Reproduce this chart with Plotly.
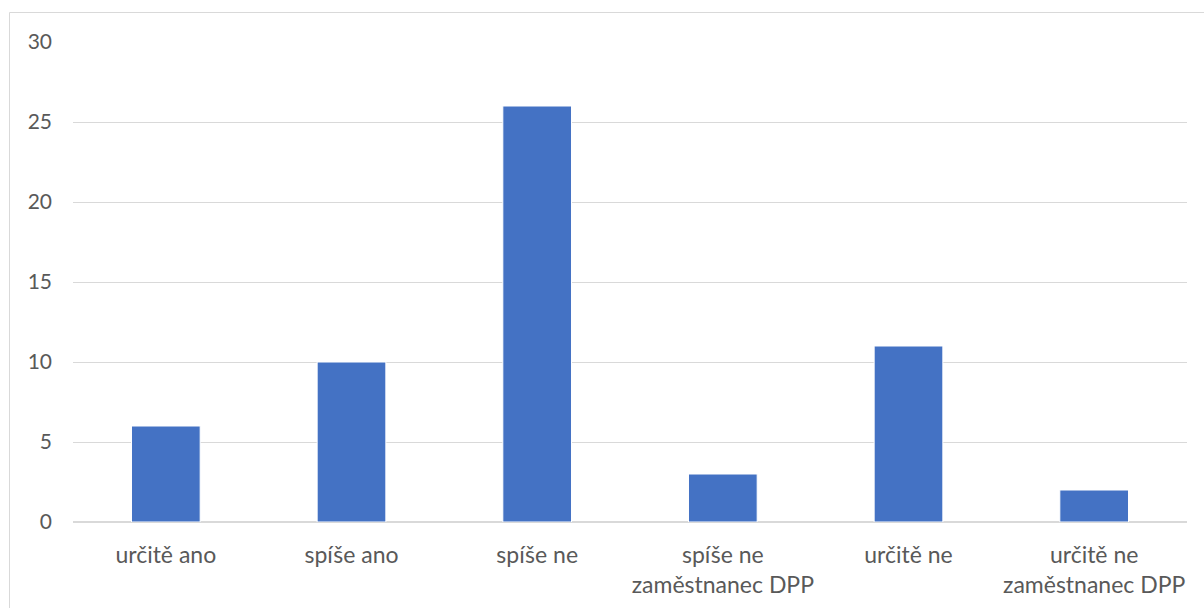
import plotly.graph_objects as go

# Survey answers and counts
categories = [
    "určitě ano",
    "spíše ano",
    "spíše ne",
    "spíše ne<br>zaměstnanec DPP",
    "určitě ne",
    "určitě ne<br>zaměstnanec DPP",
]
counts = [6, 10, 26, 3, 11, 2]
y_ticks = [0, 5, 10, 15, 20, 25, 30]

W, H = 1204, 608
ML, MR, MT, MB = 73, 17, 42, 86
plot_w = W - ML - MR
plot_h = H - MT - MB

fig = go.Figure(
    go.Bar(
        x=categories,
        y=counts,
        marker=dict(color="#4472C4", line=dict(color="#ffffff", width=1)),
        hoverinfo="x+y",
    )
)

# light grey frame around the whole chart area
def px_to_paper_x(px):
    return (px - ML) / plot_w

def px_to_paper_y(py):
    return (H - MB - py) / plot_h

fig.add_shape(
    type="rect",
    xref="paper", yref="paper",
    x0=px_to_paper_x(9.5), x1=px_to_paper_x(W + 20),
    y0=px_to_paper_y(H + 20), y1=px_to_paper_y(12.5),
    line=dict(color="#d9d9d9", width=1),
    fillcolor="rgba(0,0,0,0)",
    layer="below",
)

fig.update_layout(
    width=W,
    height=H,
    margin=dict(l=ML, r=MR, t=MT, b=MB),
    paper_bgcolor="white",
    plot_bgcolor="white",
    bargap=0.63,
    showlegend=False,
    font=dict(family="Lato, Open Sans, sans-serif", size=21, color="#595959"),
)
fig.update_xaxes(
    showgrid=False,
    showline=False,
    zeroline=False,
    ticks="",
    tickfont=dict(size=23, color="#595959"),
    ticklabelstandoff=17,
    automargin=False,
)
fig.update_yaxes(
    range=[0, 30],
    tickvals=y_ticks,
    showgrid=True,
    gridcolor="#d9d9d9",
    gridwidth=1,
    zeroline=True,
    zerolinecolor="#d9d9d9",
    zerolinewidth=1.5,
    showline=False,
    ticks="",
    tickfont=dict(size=21, color="#595959"),
    ticklabelstandoff=20,
    automargin=False,
)

fig.write_html("out.html")
